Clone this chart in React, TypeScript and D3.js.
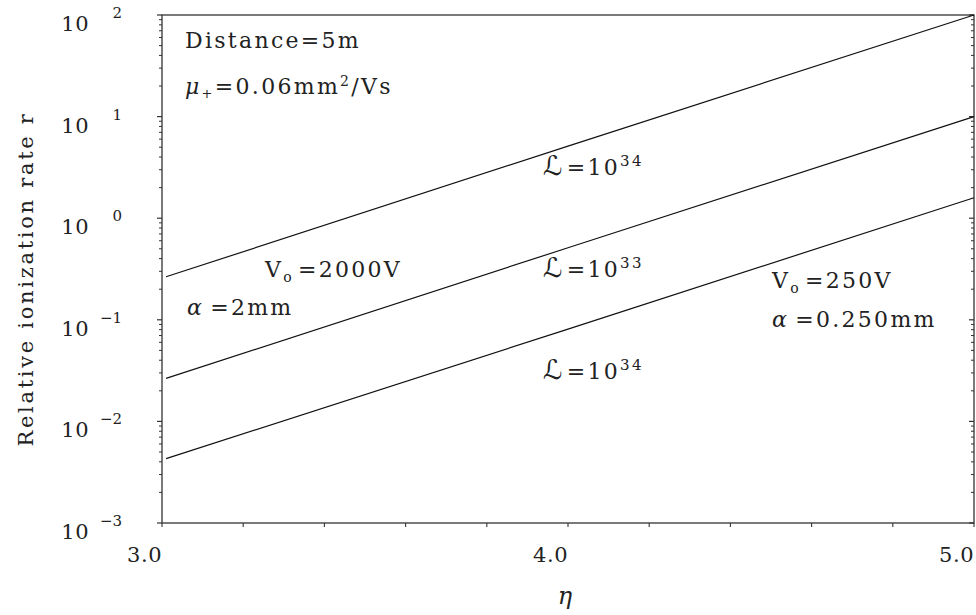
import React from 'react';
import * as d3 from 'd3';

// chart values
const etaValues = [3.01, 4.0, 5.0];
const upperRate = [0.265, 5.12, 100];
const middleRate = [0.0265, 0.512, 10];
const lowerRate = [0.0043, 0.081, 1.59];
const yDecades = [-3, -2, -1, 0, 1, 2];
const xLabels = [3.0, 4.0, 5.0];

const W = 976;
const H = 615;
const margin = { left: 162, right: 2, top: 15, bottom: 92 };
const font = "'DejaVu Serif', serif";
const ink = '#222';

const App = () => {
  const x = d3.scaleLinear().domain([3, 5]).range([margin.left, W - margin.right]);
  const y = d3.scaleLog().domain([1e-3, 1e2]).range([H - margin.bottom, margin.top]);
  const line = d3.line<number>()
    .x((d, i) => x(etaValues[i]))
    .y(d => y(d));

  const x0 = x.range()[0];
  const x1 = x.range()[1];
  const y0 = y.range()[0];
  const y1 = y.range()[1];

  // minor y ticks 2..9 inside every decade
  const minorY: number[] = [];
  yDecades.slice(0, -1).forEach(p => {
    for (let k = 2; k <= 9; k++) minorY.push(k * Math.pow(10, p));
  });
  const xTicks = d3.range(3, 5.0001, 0.2);

  return (
    <svg width={W} height={H} style={{ position: 'absolute', left: 0, top: 0, background: '#fff' }}
      fontFamily={font} fill={ink}>
      {/* frame */}
      <rect x={x0} y={y1} width={x1 - x0} height={y0 - y1} fill="none" stroke="#333" strokeWidth={1.3} />

      {/* y ticks left (outward) and right (inward) */}
      {yDecades.map(p => (
        <g key={'maj' + p}>
          <line x1={x0 - 5} x2={x0} y1={y(Math.pow(10, p))} y2={y(Math.pow(10, p))} stroke="#333" strokeWidth={1.2} />
          <line x1={x1 - 5} x2={x1} y1={y(Math.pow(10, p))} y2={y(Math.pow(10, p))} stroke="#333" strokeWidth={1.2} />
          <text x={89} y={y(Math.pow(10, p)) + 16} fontSize={21} textAnchor="end" letterSpacing={0.5}>10</text>
          <text x={122} y={y(Math.pow(10, p)) + 3} fontSize={15} textAnchor="end">{p < 0 ? '\u2212' + (-p) : p}</text>
        </g>
      ))}
      {minorY.map((v, i) => (
        <g key={'min' + i}>
          <line x1={x0 - 3} x2={x0} y1={y(v)} y2={y(v)} stroke="#333" strokeWidth={1} />
          <line x1={x1 - 3} x2={x1} y1={y(v)} y2={y(v)} stroke="#333" strokeWidth={1} />
        </g>
      ))}

      {/* x ticks */}
      {xTicks.map((t, i) => (
        <line key={'xt' + i} x1={x(t)} x2={x(t)} y1={y0} y2={y0 + 4} stroke="#333" strokeWidth={1.1} />
      ))}
      {xLabels.map(t => (
        <text key={'xl' + t} x={x(t)} y={y0 + 39} fontSize={21} textAnchor="end" letterSpacing={0.5}>{t.toFixed(1)}</text>
      ))}

      {/* axis titles */}
      <text x={565} y={604} fontSize={24} fontStyle="italic" textAnchor="middle">η</text>
      <text transform={`translate(33,279) rotate(-90)`} fontSize={21} textAnchor="middle" letterSpacing={2.7}>
        Relative ionization rate r
      </text>

      {/* curves */}
      {[upperRate, middleRate, lowerRate].map((s, i) => (
        <path key={'ln' + i} d={line(s) || ''} fill="none" stroke="#111" strokeWidth={1.2} />
      ))}

      {/* annotations */}
      <g fontSize={22} letterSpacing={2.3}>
        <text x={185} y={48}>Distance=5m</text>
        <text x={185} y={94}>
          <tspan fontStyle="italic">μ</tspan>
          <tspan fontSize={13} dy={4}>+</tspan>
          <tspan dy={-4}>=0.06mm</tspan>
          <tspan fontSize={14} dy={-8}>2</tspan>
          <tspan dy={8}>/Vs</tspan>
        </text>

        {[{ yb: 175, e: '34' }, { yb: 277, e: '33' }, { yb: 379, e: '34' }].map((l, i) => (
          <text key={'L' + i} x={543} y={l.yb}>
            <tspan fontFamily="'DejaVu Sans', sans-serif" fontStyle="italic" fontSize={27}>ℒ</tspan>
            <tspan dx={2}>=10</tspan>
            <tspan fontSize={15} dy={-9}>{l.e}</tspan>
          </text>
        ))}

        <text x={265} y={277}>
          <tspan>V</tspan>
          <tspan fontSize={14} dy={5}>o</tspan>
          <tspan dy={-5} dx={4}>=2000V</tspan>
        </text>
        <text x={187} y={315}>
          <tspan fontStyle="italic">α</tspan>
          <tspan dx={6}>=2mm</tspan>
        </text>
        <text x={772} y={288}>
          <tspan>V</tspan>
          <tspan fontSize={14} dy={5}>o</tspan>
          <tspan dy={-5} dx={4}>=250V</tspan>
        </text>
        <text x={772} y={327}>
          <tspan fontStyle="italic">α</tspan>
          <tspan dx={6}>=0.250mm</tspan>
        </text>
      </g>
    </svg>
  );
};

export default App;
